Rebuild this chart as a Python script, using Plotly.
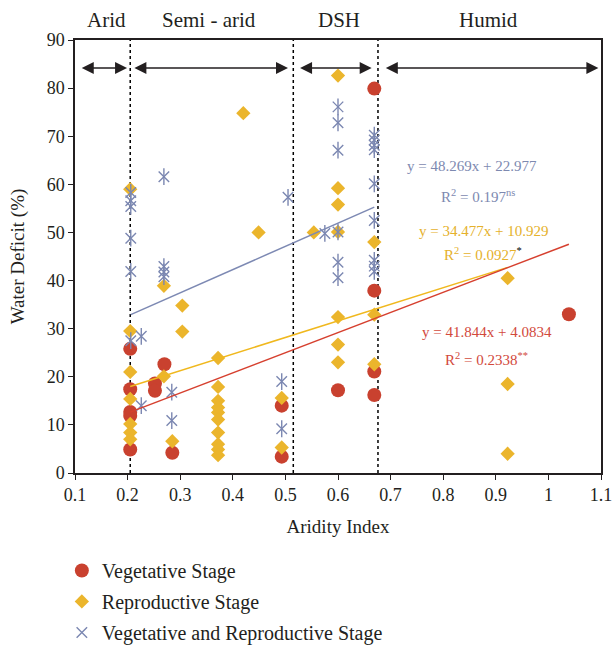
import plotly.graph_objects as go

# ---------------- data ----------------
veg_x = [0.205, 0.205, 0.205, 0.205, 0.205, 0.252, 0.252, 0.27, 0.285, 0.493, 0.493, 0.6, 0.669, 0.669, 0.669, 0.669, 1.039]
veg_y = [25.8, 17.4, 12.7, 11.9, 4.9, 18.6, 17.1, 22.6, 4.2, 14.0, 3.4, 17.2, 79.9, 37.9, 21.1, 16.2, 33.0]

rep_x = [0.205, 0.205, 0.205, 0.205, 0.205, 0.205, 0.205,
         0.269, 0.269, 0.285, 0.304, 0.304,
         0.372, 0.372, 0.372, 0.372, 0.372, 0.372, 0.372, 0.372, 0.372, 0.372,
         0.42, 0.449, 0.493, 0.493, 0.554,
         0.6, 0.6, 0.6, 0.6, 0.6, 0.6, 0.6,
         0.669, 0.669, 0.669,
         0.9225, 0.9225, 0.9225]
rep_y = [59.0, 29.5, 21.0, 15.4, 10.2, 8.4, 7.0,
         38.9, 20.1, 6.6, 34.8, 29.4,
         23.9, 17.9, 15.0, 13.6, 12.6, 11.1, 8.4, 6.0, 4.9, 3.7,
         74.8, 50.0, 15.6, 5.3, 50.0,
         82.6, 59.2, 55.8, 50.1, 32.4, 26.7, 23.0,
         48.0, 32.9, 22.6,
         40.5, 18.5, 4.0]

vr_x = [0.206, 0.206, 0.206, 0.206, 0.206, 0.206,
        0.226, 0.226,
        0.269, 0.269, 0.269, 0.269,
        0.284, 0.284, 0.493, 0.493, 0.505, 0.575,
        0.6, 0.6, 0.6, 0.6, 0.6, 0.6,
        0.669, 0.669, 0.669, 0.669, 0.669, 0.669, 0.669, 0.669, 0.669]
vr_y = [58.3, 56.6, 55.4, 48.8, 41.9, 27.5,
        28.4, 14.0,
        61.6, 42.9, 41.8, 40.8,
        16.8, 10.9, 19.0, 9.2, 57.3, 49.8,
        76.1, 72.8, 67.1, 50.1, 43.8, 40.6,
        70.2, 69.2, 68.1, 67.2, 60.1, 52.5, 44.2, 43.0, 41.9]

# regression equations (slope, intercept)
fit_veg = (41.844, 4.0834)
fit_rep = (34.477, 10.929)
fit_vr = (48.269, 22.977)

zone_names = ["Arid", "Semi - arid", "DSH", "Humid"]
zone_label_x = [0.159, 0.355, 0.601, 0.887]
zone_bounds = [0.205, 0.515, 0.676]
zone_arrows = [(0.11, 0.199), (0.21, 0.505), (0.525, 0.664), (0.688, 1.095)]
arrow_y = 84.2

RED = "#C9412F"
YEL = "#EBB52C"
BLU = "#7B87B1"
FONT = "Liberation Serif"

fig = go.Figure()

fig.add_trace(go.Scatter(x=veg_x, y=veg_y, mode="markers", name="Vegetative Stage",
                         legendgroup="a",
                         marker=dict(symbol="circle", size=14, color=RED)))
fig.add_trace(go.Scatter(x=rep_x, y=rep_y, mode="markers", name="Reproductive Stage",
                         legendgroup="b",
                         marker=dict(symbol="diamond", size=11, color=YEL)))
fig.add_trace(go.Scatter(x=vr_x, y=vr_y, mode="markers", name="Vegetative and Reproductive Stage",
                         legendgroup="c",
                         marker=dict(symbol="x-thin-open", size=10.5, color=BLU,
                                     line=dict(color=BLU, width=1.4))))
fig.add_trace(go.Scatter(x=vr_x, y=vr_y, mode="markers", showlegend=False,
                         legendgroup="c",
                         marker=dict(symbol="line-ns-open", size=12, color=BLU,
                                     line=dict(color=BLU, width=1.4))))

def fit_line(xs, fit, color):
    x0, x1 = min(xs), max(xs)
    fig.add_trace(go.Scatter(x=[x0, x1], y=[fit[0] * x0 + fit[1], fit[0] * x1 + fit[1]],
                             mode="lines", showlegend=False, hoverinfo="skip",
                             line=dict(color=color, width=1.5)))

fit_line(vr_x, fit_vr, "#7D89B3")
fit_line(rep_x, fit_rep, "#F0B81E")
fit_line(veg_x, fit_veg, "#D6402F")

shapes = []
for b in zone_bounds:
    shapes.append(dict(type="line", xref="x", yref="y", x0=b, x1=b, y0=0, y1=90,
                       line=dict(color="black", width=1.5, dash="dot"), layer="below"))

annotations = []
for name, lx in zip(zone_names, zone_label_x):
    annotations.append(dict(text=name, x=lx, y=1.046, xref="x", yref="paper",
                            xanchor="center", yanchor="middle",
                            showarrow=False, font=dict(size=21, family=FONT, color="#231f20")))
for (a0, a1) in zone_arrows:
    annotations.append(dict(text="", x=a1, y=arrow_y, ax=a0, ay=arrow_y,
                            xref="x", yref="y", axref="x", ayref="y",
                            showarrow=True, arrowside="end+start", arrowhead=2,
                            arrowsize=1.6, arrowwidth=1.5, arrowcolor="#231f20",
                            standoff=0, startstandoff=0))

def eq_text(txt, x, y, color):
    annotations.append(dict(text=txt, x=x, y=y, xref="x", yref="y", showarrow=False,
                            xanchor="center", yanchor="middle",
                            font=dict(size=15, family=FONT, color=color)))

eq_text("y = 48.269x + 22.977", 0.8545, 63.9, "#7D89B0")
eq_text("R<sup>2</sup> = 0.197<sup>ns</sup>", 0.866, 57.6, "#7D89B0")
eq_text("y = 34.477x + 10.929", 0.877, 50.3, "#E5B12B")
eq_text("R<sup>2</sup> = 0.0927<span style='color:black'><sup>*</sup></span>", 0.875, 45.6, "#E5B12B")
eq_text("y = 41.844x + 4.0834", 0.883, 29.3, "#D2493C")
eq_text("R<sup>2</sup> = 0.2338<sup>**</sup>", 0.883, 23.6, "#D2493C")

axis_common = dict(showgrid=False, zeroline=False, ticks="outside", ticklen=5,
                   tickcolor="#231f20", linecolor="#231f20", linewidth=1.5, mirror=True,
                   automargin=False, ticklabeloverflow="allow",
                   tickfont=dict(size=18, family=FONT, color="#231f20"))

fig.update_layout(
    width=614, height=645,
    margin=dict(l=75, r=13, t=40, b=172, autoexpand=False),
    plot_bgcolor="white", paper_bgcolor="white",
    font=dict(family=FONT, color="#231f20"),
    shapes=shapes, annotations=annotations,
    xaxis=dict(range=[0.1, 1.1], tick0=0.1, dtick=0.1,
               title=dict(text="Aridity Index", font=dict(size=19, family=FONT), standoff=15),
               **axis_common),
    yaxis=dict(range=[0, 90], tick0=0, dtick=10,
               title=dict(text="Water Deficit (%)", font=dict(size=19, family=FONT), standoff=17),
               **axis_common),
    legend=dict(x=-0.025, y=-0.18, xanchor="left", yanchor="top",
                font=dict(size=20, family=FONT, color="#231f20"),
                bgcolor="rgba(0,0,0,0)", tracegroupgap=2, traceorder="grouped"),
    showlegend=True,
)

fig.write_html("out.html")
